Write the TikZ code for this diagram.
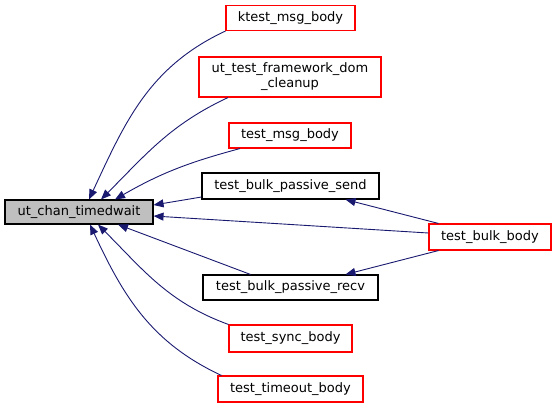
\documentclass[tikz,border=0pt]{standalone}
\usepackage{fontspec}
\setmainfont{DejaVu Sans}
\usetikzlibrary{arrows.meta}
\definecolor{edgeblue}{HTML}{191970}
\definecolor{mainfill}{HTML}{BFBFBF}
\definecolor{boxred}{HTML}{FF0000}

\begin{document}
\begin{tikzpicture}[x=1pt,y=1pt,
	fn/.style={draw=boxred,line width=1.1pt,inner sep=0pt,font=\fontsize{13}{15}\selectfont,align=center},
	fnblack/.style={fn,draw=black},
	edge/.style={draw=edgeblue,line width=0.9pt,-{Triangle[length=10pt,width=8pt]}}]
			\useasboundingbox (0,0) rectangle (556,-408);
			\node[fnblack,fill=mainfill,minimum width=148pt,minimum height=24pt] (timedwait) at (79,-212) {ut\_chan\_timedwait};
			\node[fn,minimum width=129pt,minimum height=25pt] (ktestmsg) at (290.5,-18) {ktest\_msg\_body};
			\node[fn,draw=boxred,minimum width=182pt,minimum height=40pt] (domcleanup) at (290,-77) {ut\_test\_framework\_dom\\\_cleanup};
			\node[fn,minimum width=122pt,minimum height=25pt] (testmsg) at (290,-135.5) {test\_msg\_body};
			\node[fnblack,minimum width=177pt,minimum height=26pt] (passivesend) at (290.5,-186) {test\_bulk\_passive\_send};
			\node[fnblack,minimum width=175pt,minimum height=25pt] (passiverecv) at (290.5,-287.5) {test\_bulk\_passive\_recv};
			\node[fn,minimum width=123pt,minimum height=27pt] (syncbody) at (290.5,-338.5) {test\_sync\_body};
			\node[fn,minimum width=145pt,minimum height=26pt] (timeoutbody) at (290.5,-389) {test\_timeout\_body};
			\node[fn,minimum width=122pt,minimum height=26pt] (bulkbody) at (490,-237) {test\_bulk\_body};
			\draw[edge] (ktestmsg.south west) to[out=205,in=65] ([xshift=10pt]timedwait.north);
			\draw[edge] ([xshift=-62pt]domcleanup.south) to[out=205,in=45] ([xshift=22pt]timedwait.north);
			\draw[edge] ([xshift=-50pt]testmsg.south) to[out=195,in=30] ([xshift=36pt]timedwait.north);
			\draw[edge] ([yshift=-11pt]passivesend.west) -- ([yshift=7pt]timedwait.east);
			\draw[edge] ([yshift=4pt]bulkbody.west) -- ([yshift=-4pt]timedwait.east);
			\draw[edge] ([xshift=-40pt]passiverecv.north) -- ([xshift=39pt]timedwait.south);
			\draw[edge] (syncbody.north west) to[out=160,in=-45] ([xshift=19pt]timedwait.south);
			\draw[edge] ([xshift=4pt]timeoutbody.north west) to[out=155,in=-65] ([xshift=11pt]timedwait.south);
			\draw[edge] ([xshift=10pt]bulkbody.north west) -- ([xshift=55pt]passivesend.south);
			\draw[edge] ([xshift=10pt]bulkbody.south west) -- ([xshift=55pt]passiverecv.north);
\end{tikzpicture}
\end{document}
